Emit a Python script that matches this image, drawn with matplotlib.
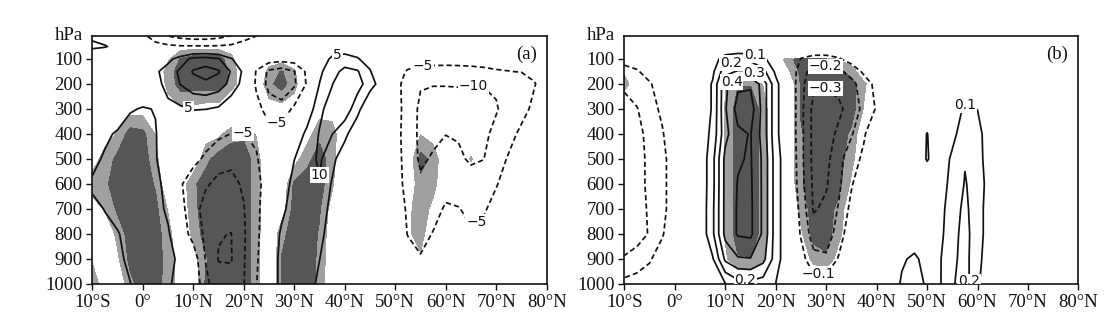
import numpy as np
import matplotlib
matplotlib.use("Agg")
import matplotlib.pyplot as plt

plt.rcParams['font.family'] = ['DejaVu Sans']
plt.rcParams['axes.unicode_minus'] = True

# ---------------- grid ----------------
lats = [-10, -7.5, -5, -2.5, 0, 2.5, 5, 7.5, 10, 12.5, 15, 17.5, 20, 22.5, 25, 27.5,
        30, 32.5, 35, 37.5, 40, 42.5, 45, 47.5, 50, 52.5, 55, 57.5, 60, 62.5, 65,
        67.5, 70, 72.5, 75, 77.5, 80]
plevs = [1000, 900, 800, 700, 600, 500, 400, 300, 200, 150, 100, 50, 5]

# ---------------- panel (a) field (rows = plevs) ----------------
a_1000 = [2, 2.5, 3.5, 4.9, 7, 8, 6, 2.4, -1, -8.5, -13.5, -13.5, -10.2, -5.2, 1.5, 6.5, 9, 8, 3.5, 1, 0.5, 0.5, 0.5, 0, 0, -1, -1, -1, -1, -1, -1, -1, -1, -0.5, -0.5, 0, 0]
a_900 = [3, 3.5, 4.2, 5.8, 7.5, 8.5, 7.5, 3, -2, -10.5, -15.2, -15.3, -10.3, -6, 1.5, 6.5, 9.5, 9, 5.1, 1, 0, 0, 0.5, 0.5, -1, -3, -4.5, -3, -2, -2, -2, -1.5, -1, -1, -0.5, 0, 0]
a_800 = [2.5, 3.5, 4.6, 7, 9, 8.5, 6, -2, -7, -11, -14.8, -15.1, -10.5, -6.5, 0, 6, 9.8, 9.5, 7, 1.5, 0, 0, 0, 0, -2, -5.2, -7, -4.7, -3.5, -3.5, -4.5, -4, -2.5, -1.5, -1, -0.5, 0]
a_700 = [3.5, 5.2, 7, 8.5, 9.5, 8, 3.5, -3.5, -8, -12, -13, -13, -10.2, -6.5, -1, 3.5, 8, 8.5, 7.5, 3.5, 0.5, 0, 0, -0.5, -3, -5.5, -8.5, -7, -4.3, -4.8, -6, -5.5, -3.5, -2, -1.5, -0.5, 0]
a_600 = [6, 7.5, 8.5, 9, 9.5, 7, 2.5, -4.5, -8, -9.5, -11, -11, -9.5, -6.5, -2.5, 1.5, 7, 9, 9.6, 4.5, 1, 0, 0, -0.5, -3, -6.5, -9, -8.5, -7, -7, -7.5, -7, -5.3, -3, -2, -1, 0]
a_500 = [3, 6, 8, 9, 8.5, 5.5, 1, -1.5, -3.5, -6, -8.5, -9.2, -9, -5.5, -1.5, 1.5, 4.9, 8, 10.8, 6.5, 1.5, 0, 0, -1, -3, -7, -10.8, -9.5, -8, -9, -10.8, -10.1, -7, -4.5, -3, -1.5, -1]
a_400 = [1, 3.5, 6, 7.5, 8, 5.3, 2, 0.5, -1, -2.5, -4, -5.1, -5.2, -4, -3, -2.5, 0.5, 6.5, 10.3, 10.1, 6.5, 0.5, -1, -2, -3, -7.5, -11, -11, -10.1, -10.5, -11, -10.8, -9, -6.5, -4, -2, -1]
a_300 = [-1, -0.5, 0, 4.5, 5.4, 4.8, 3.5, 4.2, 5.3, 5.1, 4.3, 1, -1.5, -3, -7.5, -8, -4, 1, 9, 12, 13, 7, -1, -2, -3, -7, -11, -12, -12, -12, -12, -11.5, -10.3, -8.5, -6.5, -4, -2]
a_200 = [0, 0, 0, 0, 0.5, 3, 7, 10.2, 13, 14, 12.5, 8.5, 3, -6, -11.5, -13.5, -10.8, -4.5, 5.1, 9.8, 14, 12, 7.5, 2, -3, -7.5, -9.6, -9.8, -9.8, -9.7, -9.8, -9.8, -9.5, -9, -8, -5.3, -3]
a_150 = [0, 0, -0.5, 0, 1, 4, 7.5, 11, 15.5, 17, 15.5, 9.5, 4, -5.5, -11, -12.5, -10.2, -4, 4, 8, 11.5, 10.5, 5.5, -1, -3, -5.5, -6.5, -6.8, -7, -6.8, -6.5, -6, -5.4, -5.1, -4.8, -4, -2]
a_100 = [-4, -2.5, -1, 0, 0, 1, 3.5, 7.5, 11.5, 12, 10.5, 5.5, 1, -1, -2.5, -3, -2.5, -1, 2, 6, 7, 5.5, 2.5, 0, -1.5, -2.5, -3, -3, -3, -3, -3, -3, -3, -3, -2.5, -2, -1]
a_50 = [7, 5.5, 3, 1, -1, -3, -4, -4.5, -4.5, -4.5, -4.5, -4, -3, -2, -1, -0.5, 0, 0, 0.5, 1.5, 2, 1.5, 0.5, 0, -0.5, -1, -1, -1, -1, -1, -1, -1, -1, -1, -1, -1, -0.5]
a_5 = [3, 1.5, 0.5, -1, -4, -8, -10.5, -12, -13, -13, -12, -10.2, -7, -5.2, -2.5, -1] + [0] * 21

# significance index of (a): >0.5 light grey, >1.5 dark grey
sa_1000 = [1, 0, -0.5, 1.2, 2, 2, 1, 0, -0.5, 1.7, 2, 2, 2, 1.0, -1, 1.6, 2, 2, 1.2, -0.5] + [0] * 17
sa_900 = [0.4, -0.5, 0.3, 1.8, 2, 2, 1.1, -0.2, 0, 1.4, 2, 2, 2, 1.0, -1, 1.55, 2, 2, 1.3, -0.5, 0, 0, 0, 0, 0, 0.2, 0.3] + [0] * 10
sa_800 = [-0.5, -0.5, 0.8, 2, 2, 2, 0.9, -0.5, 0.8, 2, 2, 2, 2, 1.1, -1, 1.2, 2, 2, 1.4, -0.3, 0, 0, 0, 0, 0, 0.3, 1.0, -0.5] + [0] * 9
sa_700 = [0, 0.6, 1.7, 2, 2, 1.8, 0.4, -0.5, 1.2, 2, 2, 2, 2, 1.1, -1, -0.2, 2, 2, 1.6, 0, 0, 0, 0, 0, 0, 0.2, 1.1, 0.2] + [0] * 9
sa_600 = [1, 1.3, 2, 2, 2, 1.4, -0.5, -0.2, 1.3, 2, 2, 2, 2, 1.1, -1, -0.5, 1.7, 2, 2, 0.7, -1, 0, 0, 0, 0, -0.5, 1.2, 0.9, -0.5] + [0] * 8
sa_500 = [0, 0.9, 1.8, 2, 2, 0.9, -1, -0.5, -0.5, 1.2, 2, 2, 2, 1.1, -1, -1, 0, 1.2, 2, 1, -1, 0, 0, 0, 0, -0.5, 1.9, 1.2, -0.5, 0, 0.55] + [0] * 6
sa_400 = [0, 0, 0.6, 2, 1.8, 0.45, -0.5, 0, 0, 0, 0.2, 1.2, 1.3, 0.4, 0, 0, 0, 0, 1.2, 1, -0.5, 0, 0, 0, 0, 0, 0.45] + [0] * 10
sa_300 = [0, 0, 0, 0, 0, 0, 0, 0.3, 0.2, 0, 0, -1.5, -1.5, -1] + [0] * 23
sa_200 = [0, 0, 0, 0, 0, -0.5, 0.8, 2, 2, 2, 2, 1.2, -0.5, -0.5, 1.2, 2, 0.8, -0.5] + [0] * 19
sa_150 = [0, 0, 0, 0, 0, -0.5, 1.0, 2, 2, 2, 2, 1.3, -0.5, -0.5, 0.8, 1.6, 0.6, -0.5] + [0] * 19
sa_100 = [0, 0, 0, 0, 0, 0, 0.3, 1.6, 2, 2, 2, 0.8, -0.5] + [0] * 24
sa_50 = [0] * 37
sa_5 = [0] * 37

# ---------------- panel (b) field ----------------
b_1000 = [-0.07, -0.06, -0.05, -0.03, 0, 0, 0.01, 0.05, 0.095, 0.16, 0.17, 0.15, 0.098, 0.03, -0.02, -0.05, -0.05, -0.03, -0.01, 0, 0, 0.05, 0.11, 0.13, 0.09, 0.09, 0.19, 0.24, 0.12, 0, 0, 0, 0, 0, 0, 0, 0]
b_900 = [-0.19, -0.15, -0.11, -0.05, 0, 0, 0.02, 0.09, 0.32, 0.39, 0.395, 0.33, 0.15, 0.02, -0.06, -0.17, -0.18, -0.09, -0.02, 0, 0, 0, 0.09, 0.115, 0.07, 0.09, 0.18, 0.23, 0.14, 0.02, 0, 0, 0, 0, 0, 0, 0]
b_800 = [-0.26, -0.25, -0.19, -0.11, -0.02, 0, 0.02, 0.18, 0.43, 0.51, 0.52, 0.38, 0.15, 0.02, -0.11, -0.25, -0.26, -0.15, -0.03, 0, 0, 0, 0.02, 0.05, 0.02, 0.07, 0.17, 0.23, 0.15, 0.04, 0, 0, 0, 0, 0, 0, 0]
b_700 = [-0.27, -0.26, -0.18, -0.13, -0.04, 0, 0.02, 0.18, 0.43, 0.51, 0.52, 0.38, 0.15, 0.02, -0.13, -0.31, -0.28, -0.19, -0.07, 0, 0, 0, 0, 0.02, 0.02, 0.06, 0.16, 0.22, 0.15, 0.04, 0, 0, 0, 0, 0, 0, 0]
b_600 = [-0.27, -0.25, -0.17, -0.13, -0.04, 0, 0.02, 0.17, 0.43, 0.505, 0.515, 0.38, 0.15, 0.02, -0.16, -0.32, -0.31, -0.22, -0.11, -0.02, 0, 0, 0, 0, 0, 0.04, 0.14, 0.205, 0.17, 0.04, 0, 0, 0, 0, 0, 0, 0]
b_500 = [-0.27, -0.25, -0.17, -0.13, -0.04, 0, 0.02, 0.17, 0.43, 0.49, 0.51, 0.38, 0.15, 0.02, -0.17, -0.33, -0.33, -0.23, -0.14, -0.08, -0.02, 0, 0, 0, 0.11, 0.03, 0.12, 0.195, 0.15, 0.03, 0, 0, 0, 0, 0, 0, 0]
b_400 = [-0.26, -0.23, -0.17, -0.11, -0.02, 0, 0.03, 0.13, 0.37, 0.48, 0.505, 0.36, 0.13, 0, -0.17, -0.33, -0.34, -0.28, -0.21, -0.11, -0.02, 0, 0, 0, 0.105, 0, 0.07, 0.16, 0.14, 0.03, 0, 0, 0, 0, 0, 0, 0]
b_300 = [-0.24, -0.205, -0.14, -0.08, -0.01, 0, 0.03, 0.11, 0.39, 0.54, 0.55, 0.36, 0.13, 0, -0.17, -0.33, -0.35, -0.32, -0.26, -0.17, -0.09, -0.01, 0, 0, 0, 0, 0.03, 0.12, 0.098, 0.02, 0, 0, 0, 0, 0, 0, 0]
b_200 = [-0.18, -0.15, -0.11, -0.05, 0, 0, 0.03, 0.11, 0.38, 0.48, 0.485, 0.36, 0.13, 0, -0.17, -0.28, -0.29, -0.27, -0.23, -0.15, -0.07] + [0] * 16
b_150 = [-0.13, -0.11, -0.06, -0.02, 0, 0, 0.02, 0.08, 0.26, 0.31, 0.31, 0.23, 0.08, 0, -0.16, -0.24, -0.25, -0.22, -0.16, -0.08] + [0] * 17
b_100 = [-0.07, -0.05, -0.02, 0, 0, 0, 0.01, 0.05, 0.15, 0.18, 0.17, 0.12, 0.04, 0, -0.105, -0.13, -0.13, -0.11, -0.06, -0.02] + [0] * 17
b_50 = [0] * 14 + [-0.02, -0.03, -0.03, -0.02] + [0] * 19
b_5 = [0] * 37

# significance index of (b), defined from 1000 to 100 hPa
sig_b_plevs = [1000, 900, 800, 700, 600, 500, 400, 300, 200, 150, 100]
sb_1000 = [0, 0, 0, 0, 0, 0, 0, 0, -0.5, -1, -1, -0.5, 0, 0, -1, -1, -1, -1] + [0] * 19
sb_900 = [0, 0, 0, 0, 0, 0, 0, -1, 0.3, 1.4, 1.45, 0.6, -1, 0, -0.5, 0.9, 1.3, 0] + [0] * 19
sb_800 = [0, 0, 0, 0, 0, 0, 0, -1, 0.6, 2, 2, 1.2, -1, -0.5, 0.3, 1.9, 2, 0.8, -0.5] + [0] * 18
sb_700 = [0, 0, 0, 0, 0, 0, 0, -1, 0.6, 2, 2, 1.2, -1, -0.5, 0.8, 2, 2, 1.2, -0.5] + [0] * 18
sb_600 = [0, 0, 0, 0, 0, 0, 0, -1, 0.6, 2, 2, 1.2, -1, -0.5, 1.4, 2, 2, 1.8, 0.3, -0.5] + [0] * 17
sb_500 = [0, 0, 0, 0, 0, 0, 0, -1, 0.6, 2, 2, 1.2, -1, -0.5, 1.4, 2, 2, 2, 0.8, -0.5] + [0] * 17
sb_400 = [0, 0, 0, 0, 0, 0, 0, -1, 0.6, 2, 2, 1.2, -1, -0.5, 1.4, 2, 2, 2, 1.3, -0.5] + [0] * 17
sb_300 = [-0.6, 0, 0, 0, 0, 0, 0, -1, 0.6, 2, 2, 1.2, -1, -0.5, 1.6, 2, 2, 2, 2, 0.4, -0.5] + [0] * 16
sb_200 = [0.9, -0.2, 0, 0, 0, 0, 0, -0.5, 0.4, 1.45, 1.45, 0.4, -0.5, -0.5, 1.6, 2, 2, 2, 2, 0.7, -0.5] + [0] * 16
sb_150 = [0.3, 0, 0, 0, 0, 0, 0, 0, 0, -3, -3, 0, 0, 0.3, 1.8, 2, 2, 1.8, 1.0, -0.3] + [0] * 17
sb_100 = [0, 0, 0, 0, 0, 0, 0, 0, 0, 0, 0, 0, -0.5, 1.2, 2, 2, 1.6, 0.3] + [0] * 19

# ---------------- ticks / levels / labels ----------------
xtick_vals = [-10, 0, 10, 20, 30, 40, 50, 60, 70, 80]
xtick_labels = ['10°S', '0°', '10°N', '20°N', '30°N', '40°N', '50°N', '60°N', '70°N', '80°N']
ytick_vals = [100, 200, 300, 400, 500, 600, 700, 800, 900, 1000]
levels_a = [-15, -10, -5, 5, 10, 15]
levels_b = [-0.3, -0.2, -0.1, 0.1, 0.2, 0.3, 0.4, 0.5]
# (lat, pressure) hints for the contour labels
labels_a = [(9.0, 300), (26.6, 365), (19.8, 395), (38.5, 78),
            (35, 565), (55.5, 125), (65.5, 210), (66.5, 765)]
labels_b = [(16.0, 80), (11.0, 110), (16.0, 148), (11.0, 182),
            (14.0, 982), (29.8, 135), (29.8, 215), (28.5, 952),
            (57.5, 283), (57.2, 990)]

LIGHT = '#a0a0a0'
DARK = '#565656'
LINE = '#111111'


def check(rows):
    for r in rows:
        assert len(r) == len(lats), len(r)
    return np.array(rows, dtype=float)


field_a = check([a_1000, a_900, a_800, a_700, a_600, a_500, a_400, a_300, a_200, a_150, a_100, a_50, a_5])
sig_a = check([sa_1000, sa_900, sa_800, sa_700, sa_600, sa_500, sa_400, sa_300, sa_200, sa_150, sa_100, sa_50, sa_5])
field_b = check([b_1000, b_900, b_800, b_700, b_600, b_500, b_400, b_300, b_200, b_150, b_100, b_50, b_5])
sig_b = check([sb_1000, sb_900, sb_800, sb_700, sb_600, sb_500, sb_400, sb_300, sb_200, sb_150, sb_100])


def fmt_a(v):
    return ('%d' % round(v)).replace('-', '\u2212')


def fmt_b(v):
    return ('%.1f' % v).replace('-', '\u2212')


def draw(ax, field, sig, sig_p, levels, labels, fmt, tag):
    ax.contourf(lats, sig_p, sig, levels=[0.5, 1.5, 100], colors=[LIGHT, DARK], zorder=1)
    styles = [(0, (3.0, 1.8)) if lv < 0 else 'solid' for lv in levels]
    cs = ax.contour(lats, plevs, field, levels=levels, colors=LINE,
                    linewidths=1.25, linestyles=styles, zorder=2)
    texts = cs.clabel(manual=labels, inline=False, fmt=fmt, fontsize=10)
    for t in texts:
        t.set_rotation(0)
        t.set_bbox(dict(boxstyle='square,pad=0.06', fc='white', ec='none'))
        t.set_zorder(4)
    ax.set_xlim(-10, 80)
    ax.set_ylim(1000, 7)
    ax.set_xticks(xtick_vals)
    ax.set_xticklabels(xtick_labels)
    ax.set_yticks(ytick_vals)
    ax.set_yticklabels([str(v) for v in ytick_vals])
    ax.tick_params(axis='both', direction='out', length=4, width=1.0, colors='#111111',
                   labelsize=13.5, labelfontfamily='Liberation Serif')
    ax.tick_params(axis='y', pad=3)
    ax.tick_params(axis='x', pad=3)
    for s in ax.spines.values():
        s.set_linewidth(1.2)
        s.set_color('#111111')
    ax.text(-0.021, 1.0, 'hPa', transform=ax.transAxes, ha='right', va='center',
            family='Liberation Serif', fontsize=13.5, color='#111111')
    ax.text(0.978, 0.925, tag, transform=ax.transAxes, ha='right', va='center',
            family='Liberation Serif', fontsize=13.5, color='#111111', zorder=5)


fig = plt.figure(figsize=(11.15, 3.31), dpi=100)
ax_a = fig.add_axes([0.0828, 0.142, 0.4075, 0.750])
ax_b = fig.add_axes([0.5600, 0.142, 0.4072, 0.750])

draw(ax_a, field_a, sig_a, plevs, levels_a, labels_a, fmt_a, '(a)')
draw(ax_b, field_b, sig_b, sig_b_plevs, levels_b, labels_b, fmt_b, '(b)')

fig.savefig('out.png', dpi=100)
